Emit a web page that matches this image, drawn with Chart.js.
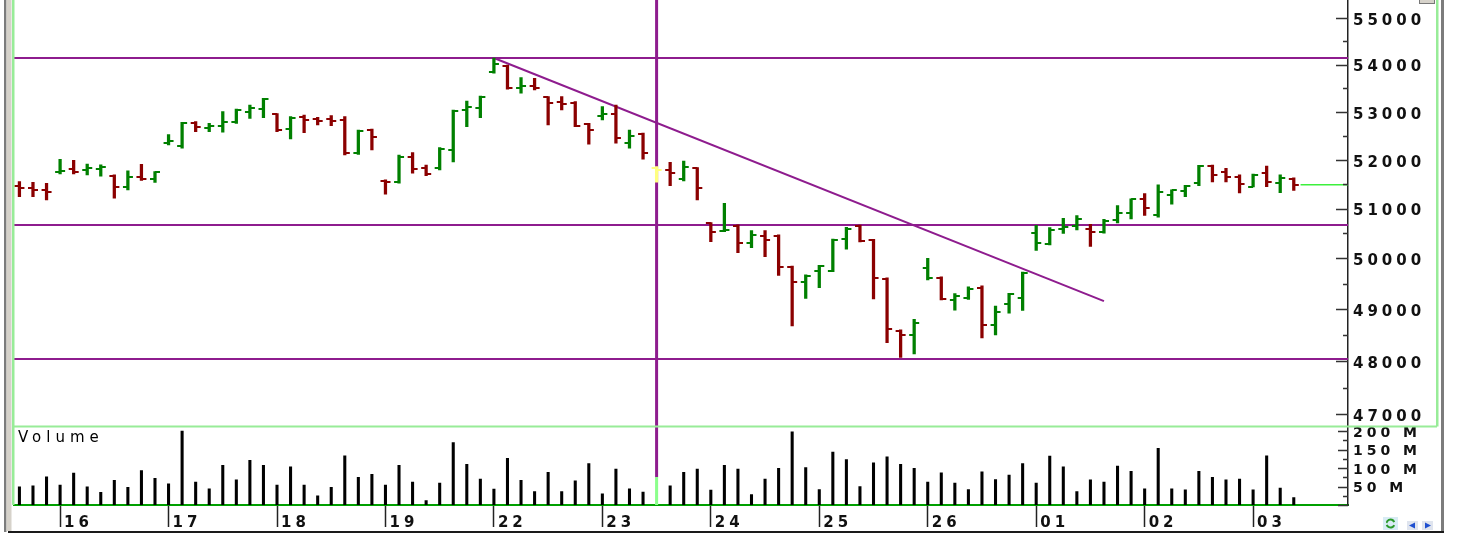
<!DOCTYPE html>
<html lang="en">
<head>
<meta charset="UTF-8">
<title>Intraday bars</title>
<style>
  html, body { margin: 0; padding: 0; background: #fff; }
  #wrap { width: 1466px; height: 538px; }
</style>
</head>
<body>
<div id="wrap"><canvas id="chart" width="1466" height="538"></canvas></div>
<script src="https://cdn.jsdelivr.net/npm/chart.js"></script>
<script>
// day labels and the bar index where each day starts
const dayLabels = ['16', '17', '18', '19', '22', '23', '24', '25', '26', '01', '02', '03'];
const dayStart = [3, 11, 19, 27, 35, 43, 51, 59, 67, 75, 83, 91];

// hourly bars
const open = [
  51460, 51410, 51370, 51740, 51800, 51780, 51800, 51670, 51445, 51645, 51605,
  52345, 52275, 52755, 52650, 52705, 52790, 52985, 53055,
  52950, 52635, 52895, 52845, 52845, 52825, 52130, 52615,
  51565, 51535, 52060, 51820, 51820, 52200, 53035, 53070,
  53845, 53975, 53505, 53550, 53305, 53195, 53190, 52735,
  52915, 52945, 52340, 52525, 51820, 51785, 51605, 51820,
  50705, 50540, 50655, 50315, 50450, 50450, 49835, 49540,
  49745, 49750, 50395, 50645, 50370, 49600, 48585, 48500,
  49820, 49615, 49175, 49230, 49425, 48690, 49100, 49215,
  50505, 50290, 50590, 50650, 50580, 50535, 50760, 50905,
  51185, 50865, 51275, 51365, 51515, 51875, 51755, 51650,
  51445, 51720, 51520, 51605
];
const high = [
  51550, 51535, 51515, 52005, 51985, 51910, 51895, 51685, 51770, 51905, 51755,
  52520, 52775, 52790, 52755, 53000, 53055, 53140, 53280,
  52960, 52895, 52930, 52880, 52915, 52895, 52615, 52635,
  51585, 52095, 52145, 51890, 52250, 53035, 53220, 53330,
  54140, 53990, 53720, 53705, 53315, 53315, 53210, 52755,
  53105, 53140, 52615, 52550, 51855, 51945, 51970, 51835,
  50715, 51105, 50670, 50555, 50555, 50470, 49850, 49675,
  49865, 50385, 50620, 50665, 50380, 49615, 48605, 48805,
  50000, 49635, 49310, 49440, 49460, 49065, 49315, 49730,
  50660, 50615, 50805, 50860, 50680, 50780, 51060, 51195,
  51305, 51480, 51380, 51470, 51880, 51890, 51820, 51685,
  51705, 51865, 51685, 51625
];
const low = [
  51240, 51240, 51175, 51705, 51705, 51685, 51660, 51210, 51380, 51575, 51530,
  52305, 52235, 52580, 52580, 52570, 52755, 52860, 52875,
  52580, 52430, 52560, 52720, 52705, 52095, 52110, 52200,
  51290, 51515, 51720, 51670, 51790, 51955, 52685, 52875,
  53815, 53475, 53390, 53460, 52720, 53035, 52685, 52320,
  52825, 52340, 52235, 52010, 51535, 51465, 51565, 51175,
  50335, 50535, 50115, 50215, 50035, 49665, 48680, 49215,
  49425, 49740, 50185, 50330, 49205, 48355, 48075, 48140,
  49575, 49185, 48985, 49195, 48450, 48505, 48925, 48980,
  50160, 50270, 50500, 50570, 50240, 50505, 50710, 50790,
  50860, 50825, 51090, 51240, 51465, 51540, 51540, 51315,
  51440, 51445, 51325, 51370
];
const close = [
  51420, 51380, 51345, 51760, 51740, 51820, 51855, 51445, 51650, 51605, 51745,
  52385, 52755, 52685, 52705, 52790, 53025, 53070, 53265,
  52615, 52875, 52825, 52805, 52795, 52145, 52595, 52475,
  51550, 52060, 51810, 51700, 52220, 53015, 53095, 53315,
  54015, 53495, 53550, 53505, 53175, 53155, 52705, 52615,
  52955, 52445, 52500, 52130, 51785, 51720, 51855, 51425,
  50525, 50565, 50305, 50470, 50370, 49835, 49540, 49655,
  49845, 50370, 50595, 50355, 49610, 48615, 48500, 48740,
  49620, 49195, 49270, 49400, 48690, 48955, 49290, 49715,
  50300, 50560, 50635, 50790, 50535, 50755, 50905, 51185,
  51005, 51345, 51370, 51450, 51860, 51685, 51635, 51500,
  51685, 51550, 51630, 51485
];
// volume in millions
const volume = [
  49, 52, 76, 54, 86, 49, 34, 67, 48, 93, 72,
  57, 200, 62, 44, 107, 68, 121, 107,
  54, 103, 54, 25, 48, 133, 75, 83,
  54, 107, 62, 12, 59, 169, 110, 70,
  43, 126, 67, 36, 88, 36, 65, 112,
  30, 97, 44, 35, 75, 52, 88, 97,
  40, 107, 97, 28, 70, 99, 198, 101,
  42, 143, 123, 50, 114, 130, 110, 99,
  62, 87, 59, 42, 90, 69, 81, 112,
  59, 132, 103, 36, 68, 62, 105, 91,
  44, 153, 44, 41, 91, 75, 68, 70,
  41, 133, 46, 20
];

// drawn studies
const levels = [54140, 50670, 48045];
const trendX = [35, 80];
const trendY = [54140, 49160];
const selected = 47;

const priceTicks = [47000, 47500, 48000, 48500, 49000, 49500, 50000, 50500, 51000,
  51500, 52000, 52500, 53000, 53500, 54000, 54500, 55000];
const volTicks = [0, 25, 50, 75, 100, 125, 150, 175, 200];

const GREEN = '#008000', RED = '#8b0000', YELLOW = '#ffff80', PURPLE = '#8e1c8e';
const X_MIN = -0.4, X_MAX = 98;

function barColor(i) {
  if (i === selected) return YELLOW;
  const prev = i === 0 ? open[0] : close[i - 1];
  return close[i] >= prev ? GREEN : RED;
}

// little images for the open (left) and close (right) ticks
const tickCache = {};
function tickImage(side, color) {
  const key = side + color;
  if (!tickCache[key]) {
    const c = document.createElement('canvas');
    c.width = 12; c.height = 2;
    const g = c.getContext('2d');
    g.fillStyle = color;
    if (side === 'open') g.fillRect(1, 0, 5, 2);
    else g.fillRect(6, 0, 5, 2);
    tickCache[key] = c;
  }
  return tickCache[key];
}

const panelPlugin = {
  id: 'panel',
  beforeDraw(chart) {
    chart.ctx.letterSpacing = '4px';
  },
  beforeDatasetsDraw(chart) {
    const {ctx, chartArea, scales} = chart;
    const x = scales.x.getPixelForValue(selected);
    ctx.save();
    ctx.strokeStyle = PURPLE;
    ctx.lineWidth = 3;
    ctx.beginPath();
    ctx.moveTo(x, chartArea.top);
    ctx.lineTo(x, scales.yv.getPixelForValue(volume[selected]));
    ctx.stroke();
    ctx.restore();
  },
  afterDraw(chart) {
    const {ctx, chartArea, scales} = chart;
    const y = scales.y, yv = scales.yv, xs = scales.x;
    ctx.save();

    // axis ticks pointing into the plot
    ctx.strokeStyle = '#333';
    ctx.lineWidth = 1.5;
    ctx.beginPath();
    priceTicks.forEach(v => {
      const py = Math.round(y.getPixelForValue(v)) + 0.5;
      const len = v % 1000 === 0 ? 12 : 5;
      ctx.moveTo(y.left - len, py); ctx.lineTo(y.left, py);
    });
    volTicks.forEach(v => {
      const py = Math.round(yv.getPixelForValue(v)) + 0.5;
      const len = v % 50 === 0 ? 10 : 5;
      ctx.moveTo(yv.left - len, py); ctx.lineTo(yv.left, py);
    });
    ctx.stroke();

    // panel borders
    ctx.fillStyle = '#98ec98';
    ctx.fillRect(chartArea.left - 2, 0, 2.5, chartArea.bottom);
    ctx.fillRect(chartArea.left - 2, yv.top - 1, y.right - chartArea.left + 1, 2);
    ctx.fillRect(y.right - 2, 0, 2.5, yv.top);

    // window frame
    ctx.fillStyle = '#7c7c7c';
    ctx.fillRect(4, 0, 2.5, xs.bottom + 1);
    ctx.fillRect(y.right + 3, 0, 3, xs.bottom + 1);
    ctx.fillStyle = '#d6d2ca';
    ctx.fillRect(6.5, 0, 5, xs.bottom);
    ctx.fillStyle = '#1a1a1a';
    ctx.fillRect(8, xs.bottom, y.right - 2, 2);

    // small button top right
    ctx.fillStyle = '#d6d2ca';
    ctx.fillRect(y.right - 19, 0, 16, 4);
    ctx.strokeStyle = '#777';
    ctx.lineWidth = 1;
    ctx.strokeRect(y.right - 18.5, -1, 15, 4.5);

    // toolbar icons bottom right
    const bx = y.left + 35, by = xs.top + 12;
    ctx.fillStyle = '#d8ecf4';
    ctx.fillRect(bx, by, 15, 13);
    ctx.strokeStyle = '#2a9a2a';
    ctx.lineWidth = 2;
    ctx.beginPath();
    ctx.arc(bx + 7.5, by + 6.5, 4, 0.4, 2.8);
    ctx.moveTo(bx + 3.2, by + 5);
    ctx.arc(bx + 7.5, by + 6.5, 4, 3.5, 5.9);
    ctx.stroke();
    ctx.fillStyle = '#dfe4ee';
    ctx.fillRect(bx + 24, by + 4, 11, 9);
    ctx.fillRect(bx + 39, by + 4, 11, 9);
    ctx.fillStyle = '#1f4fd0';
    ctx.beginPath();
    ctx.moveTo(bx + 26, by + 8.5); ctx.lineTo(bx + 32, by + 5.5); ctx.lineTo(bx + 32, by + 11.5);
    ctx.closePath();
    ctx.moveTo(bx + 48, by + 8.5); ctx.lineTo(bx + 42, by + 5.5); ctx.lineTo(bx + 42, by + 11.5);
    ctx.closePath();
    ctx.fill();

    // panel caption
    ctx.letterSpacing = '5px';
    ctx.fillStyle = '#000';
    ctx.font = '15px "DejaVu Sans"';
    ctx.textBaseline = 'middle';
    ctx.textAlign = 'left';
    ctx.fillText('Volume', chartArea.left + 4, yv.top + 12);
    ctx.restore();
  }
};

const n = close.length;
const lastClose = close[n - 1];

const datasets = [
  ...levels.map(lv => ({
    type: 'line', yAxisID: 'y',
    data: [{x: X_MIN, y: lv}, {x: X_MAX, y: lv}],
    borderColor: PURPLE, borderWidth: 2, pointRadius: 0, order: 10
  })),
  {
    type: 'line', yAxisID: 'y',
    data: trendX.map((x, i) => ({x: x, y: trendY[i]})),
    borderColor: PURPLE, borderWidth: 2, pointRadius: 0, order: 9
  },
  {
    type: 'line', yAxisID: 'y',
    data: [{x: n - 0.5, y: lastClose}, {x: X_MAX, y: lastClose}],
    borderColor: '#3cf03c', borderWidth: 1.5, pointRadius: 0, order: 8
  },
  {
    type: 'bar', yAxisID: 'yv',
    data: volume.map((v, i) => ({x: i, y: v})),
    backgroundColor: ctx => ctx.dataIndex === selected ? '#8cff8c' : '#000',
    barThickness: 2.4, grouped: false, order: 5
  },
  {
    type: 'bar', yAxisID: 'y',
    data: low.map((l, i) => ({x: i, y: [l, high[i]]})),
    backgroundColor: ctx => barColor(ctx.dataIndex),
    barThickness: 2.6, grouped: false, order: 3
  },
  {
    type: 'line', yAxisID: 'y', showLine: false,
    data: open.map((o, i) => ({x: i, y: o})),
    pointStyle: ctx => tickImage('open', barColor(ctx.dataIndex)),
    pointRadius: 3, order: 2
  },
  {
    type: 'line', yAxisID: 'y', showLine: false,
    data: close.map((c, i) => ({x: i, y: c})),
    pointStyle: ctx => tickImage('close', barColor(ctx.dataIndex)),
    pointRadius: 3, order: 1
  }
];

Chart.defaults.font.family = '"DejaVu Sans"';
Chart.defaults.color = '#000';

new Chart(document.getElementById('chart'), {
  type: 'bar',
  data: {datasets: datasets},
  plugins: [panelPlugin],
  options: {
    responsive: false,
    animation: false,
    devicePixelRatio: 1,
    events: [],
    layout: {autoPadding: false, padding: {left: 14, right: 28, top: 0, bottom: 7}},
    plugins: {legend: {display: false}, tooltip: {enabled: false}},
    scales: {
      x: {
        type: 'linear', position: 'bottom', min: X_MIN, max: X_MAX, offset: false,
        afterBuildTicks: s => { s.ticks = dayStart.map(v => ({value: v})); },
        afterFit: s => { s.height = 26; s.paddingLeft = 0; s.paddingRight = 0; },
        ticks: {
          callback: (v, i) => dayLabels[i],
          autoSkip: false, maxRotation: 0, align: 'start',
          labelOffset: 4, padding: -13,
          font: {size: 15, weight: 'bold'}, color: '#111'
        },
        grid: {display: true, offset: false, drawOnChartArea: false, tickLength: 22, tickColor: '#222', tickWidth: 1.5},
        border: {display: true, color: '#00a000', width: 2}
      },
      y: {
        type: 'logarithmic', position: 'right', stack: 'right', stackWeight: 426.5,
        min: 46774, max: 55401,
        afterBuildTicks: s => { s.ticks = priceTicks.map(v => ({value: v})); },
        afterFit: s => { s.width = 90; s.paddingTop = 0; s.paddingBottom = 0; },
        ticks: {
          callback: v => v % 1000 === 0 ? String(v) : '',
          autoSkip: false, padding: 5, labelOffset: 3,
          font: {size: 15, weight: 'bold'}, color: '#111'
        },
        grid: {display: false, drawTicks: false, tickLength: 0},
        border: {display: true, color: '#222', width: 1.5}
      },
      yv: {
        type: 'linear', position: 'right', stack: 'right', stackWeight: 78.5,
        min: 0, max: 212.2,
        afterBuildTicks: s => { s.ticks = volTicks.map(v => ({value: v})); },
        afterFit: s => { s.width = 90; s.paddingTop = 0; s.paddingBottom = 0; },
        ticks: {
          callback: v => (v > 0 && v % 50 === 0) ? v + ' M' : '',
          autoSkip: false, padding: 5, labelOffset: 2,
          font: {size: 14, weight: 'bold'}, color: '#111'
        },
        grid: {display: false, drawTicks: false, tickLength: 0},
        border: {display: true, color: '#222', width: 1.5}
      }
    }
  }
});
</script>
</body>
</html>
